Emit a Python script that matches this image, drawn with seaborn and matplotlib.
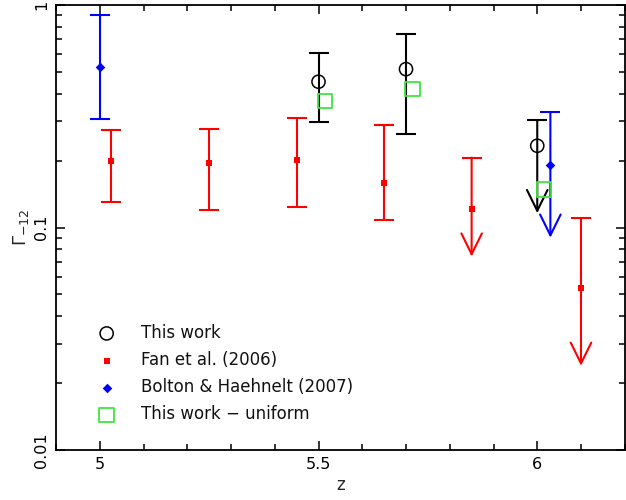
import numpy as np
import pandas as pd
import matplotlib
matplotlib.use("Agg")
import matplotlib.pyplot as plt
import seaborn as sns

# --- data ------------------------------------------------------------------
ours_z = [5.5, 5.7, 6.0]
ours_g = [0.452, 0.515, 0.233]
ours_hi = [0.61, 0.743, 0.304]
ours_lo = [0.298, 0.262, 0.116]      # last one: upper limit, arrow tip
ours_limit = [False, False, True]

fan_z = [5.025, 5.25, 5.45, 5.65, 5.85, 6.1]
fan_g = [0.200, 0.194, 0.202, 0.159, 0.121, 0.0536]
fan_hi = [0.273, 0.278, 0.312, 0.289, 0.206, 0.110]
fan_lo = [0.130, 0.120, 0.124, 0.108, 0.074, 0.0239]
fan_limit = [False, False, False, False, True, True]

bh_z = [5.0, 6.03]
bh_g = [0.528, 0.190]
bh_hi = [0.90, 0.33]
bh_lo = [0.306, 0.090]
bh_limit = [False, True]

uni_z = [5.515, 5.715, 6.015]
uni_g = [0.371, 0.420, 0.148]

RED = "#ff0000"
BLUE = "#0000ff"
GREEN = "#3ee63e"

sns.set_theme(style="ticks")
plt.rcParams["font.family"] = ["DejaVu Sans"]
plt.rcParams["mathtext.fontset"] = "dejavusans"


def draw_errors(ax, z, g, hi, lo, limit, color):
    for x, c, h, l, lim in zip(z, g, hi, lo, limit):
        if not lim:
            ax.errorbar([x], [c], yerr=[[c - l], [h - c]], fmt="none",
                        ecolor=color, elinewidth=1.5, capsize=7, capthick=1.5,
                        zorder=2)
        else:
            # cap on top, then line with an open arrow down to the limit
            ax.plot([x], [h], marker="_", ms=14, mew=1.5, color=color, zorder=2)
            ax.annotate("", xy=(x, l), xytext=(x, h),
                        arrowprops=dict(arrowstyle="->,head_length=0.75,head_width=0.37",
                                        color=color, lw=1.5, shrinkA=0, shrinkB=0,
                                        mutation_scale=20),
                        zorder=2)


def main():
    fig = plt.figure(figsize=(6.26, 5.0), dpi=100)
    ax = fig.add_axes([0.0895, 0.1, 0.9085, 0.89])

    draw_errors(ax, ours_z, ours_g, ours_hi, ours_lo, ours_limit, "black")
    draw_errors(ax, fan_z, fan_g, fan_hi, fan_lo, fan_limit, RED)
    draw_errors(ax, bh_z, bh_g, bh_hi, bh_lo, bh_limit, BLUE)

    ours = pd.DataFrame({"z": ours_z, "g": ours_g})
    fan = pd.DataFrame({"z": fan_z, "g": fan_g})
    bh = pd.DataFrame({"z": bh_z, "g": bh_g})
    uni = pd.DataFrame({"z": uni_z, "g": uni_g})

    sns.scatterplot(data=ours, x="z", y="g", ax=ax, marker="o", s=90,
                    facecolor="none", edgecolor="black", linewidth=1.1,
                    label="This work", zorder=3)
    sns.scatterplot(data=fan, x="z", y="g", ax=ax, marker="s", s=14,
                    color=RED, edgecolor=RED, linewidth=0, label="Fan et al. (2006)", zorder=3)
    sns.scatterplot(data=bh, x="z", y="g", ax=ax, marker="D", s=24,
                    color=BLUE, edgecolor=BLUE, linewidth=0,
                    label="Bolton & Haehnelt (2007)", zorder=3)
    sns.scatterplot(data=uni, x="z", y="g", ax=ax, marker="s", s=110,
                    facecolor="none", edgecolor=GREEN, linewidth=1.3,
                    label="This work \u2212 uniform", zorder=4)

    ax.set_yscale("log")
    ax.set_xlim(4.9, 6.2)
    ax.set_ylim(0.01, 1)

    ax.set_xticks([5, 5.5, 6])
    ax.set_xticklabels(["5", "5.5", "6"])
    ax.set_xticks(np.arange(4.9, 6.21, 0.1), minor=True)
    ax.set_yticks([0.01, 0.1, 1])
    ax.set_yticklabels(["0.01", "0.1", "1"], rotation=90, va="center")
    ax.tick_params(which="both", direction="in", top=True, right=True,
                   colors="black", labelsize=11.5, width=1.1)
    ax.tick_params(which="major", length=6.5, pad=5)
    ax.tick_params(which="minor", length=4)
    ax.tick_params(axis="x", which="minor", length=4.5)
    for sp in ax.spines.values():
        sp.set_linewidth(1.3)
        sp.set_color("black")

    ax.set_xlabel("z", fontsize=12, labelpad=3)
    ax.set_ylabel(r"$\Gamma_{-12}$", fontsize=13, labelpad=2)
    ax.grid(False)

    leg = ax.legend(loc="lower left", bbox_to_anchor=(0.048, 0.045), frameon=False,
                    fontsize=12, handletextpad=1.05, labelspacing=0.55,
                    borderaxespad=0)
    for t in leg.get_texts():
        t.set_color("#111111")

    fig.savefig("out.png", dpi=100, facecolor="white")
    plt.close(fig)


if __name__ == "__main__":
    main()
